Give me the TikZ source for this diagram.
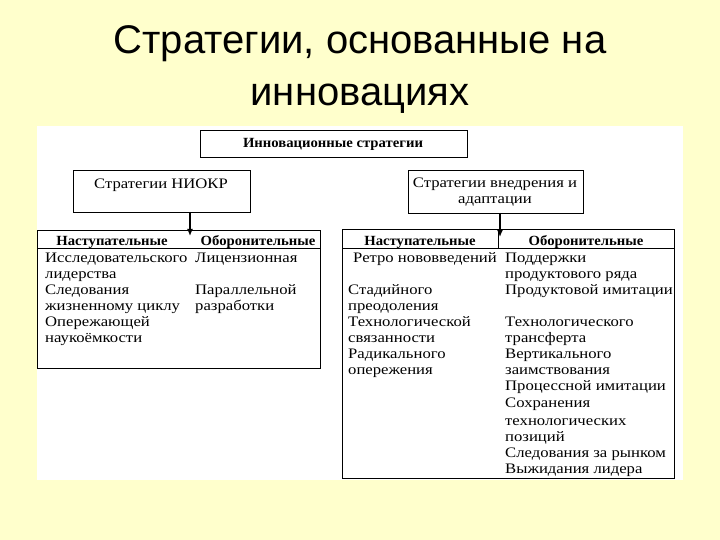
\documentclass[tikz,border=0pt]{standalone}
\usepackage{fontspec}
\usetikzlibrary{arrows.meta}
\setmainfont{Liberation Serif}
\newfontfamily\wide[FakeStretch=1.15]{Liberation Serif}
\newfontfamily\wideb[FakeStretch=1.05]{Liberation Serif Bold}
\newfontfamily\titlefont{Liberation Sans}
\definecolor{bg}{HTML}{FFFFCC}
\begin{document}
\begin{tikzpicture}[x=1pt,y=-1pt,
  box/.style={draw,line width=0.8pt},
  t/.style={font=\wide\fontsize{14.5}{16}\selectfont,anchor=base west,inner sep=0pt},
  h/.style={font=\wideb\fontsize{14}{16}\selectfont,anchor=base,inner sep=0pt},
  arr/.style={-{Latex[length=7pt,width=6pt]},line width=1.6pt}]
\useasboundingbox (0,0) rectangle (720,540);
\fill[bg] (0,0) rectangle (720,540);
\fill[white] (37,126) rectangle (683,480);
\node[font=\titlefont\fontsize{40}{52}\selectfont,align=center] (title) at (360,70) {Стратегии, основанные на\\инновациях};
\draw[box] (200,130) rectangle (467,157);
\node[h] (top) at (333,148) {Инновационные стратегии};
\draw[box] (73,170) rectangle (250,212);
\node[t,anchor=base] (niokr) at (161,189) {Стратегии НИОКР};
\draw[box] (408,170) rectangle (583,213);
\node[t,anchor=base] (vn1) at (495,188) {Стратегии внедрения и};
\node[t,anchor=base] (vn2) at (495,204) {адаптации};
\coordinate (a1) at (190,212); \coordinate (b1) at (190,236);
\coordinate (a2) at (500,213); \coordinate (b2) at (500,237);
\draw[arr] (a1) -- (b1);
\draw[arr] (a2) -- (b2);
% left table
\draw[box] (37,230) rectangle (320,368);
\draw[box] (37,248) -- (320,248);
\node[h] (lh1) at (112,245) {Наступательные};
\node[h] (lh2) at (258,245) {Оборонительные};
\foreach \y/\s in {262/Исследовательского,278/лидерства,294/Следования,310/жизненному циклу,326/Опережающей,342/наукоёмкости}
  \node[t] at (45,\y) {\s};
\foreach \y/\s in {262/Лицензионная,294/Параллельной,310/разработки}
  \node[t] at (195,\y) {\s};
% right table
\draw[box] (342,229) rectangle (674,478);
\draw[box] (342,248) -- (674,248);
\draw[box] (498,229) -- (498,248);
\node[h] (rh1) at (420,245) {Наступательные};
\node[h] (rh2) at (586,245) {Оборонительные};
\node[t] at (353,262) {Ретро нововведений};
\foreach \y/\s in {294/Стадийного,310/преодоления,326/Технологической,342/связанности,358/Радикального,374/опережения}
  \node[t] at (348,\y) {\s};
\foreach \y/\s in {262/Поддержки,278/продуктового ряда,294/Продуктовой имитации,326/Технологического,342/трансферта,358/Вертикального,374/заимствования,390/Процессной имитации,407/Сохранения,425/технологических,441/позиций,457/Следования за рынком,473/Выжидания лидера}
  \node[t] at (505,\y) {\s};
\end{tikzpicture}
\end{document}
